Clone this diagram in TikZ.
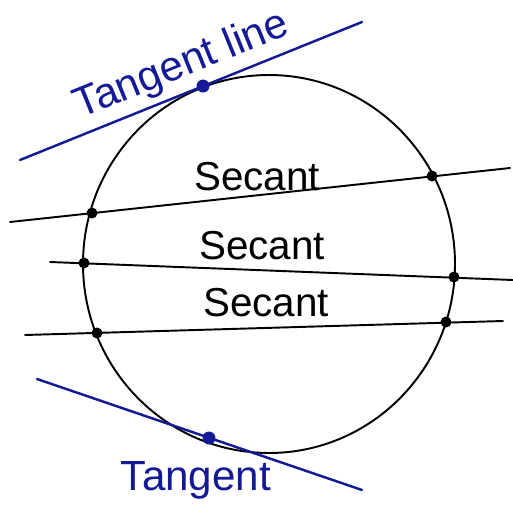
\documentclass[tikz,border=0pt]{standalone}
\usepackage{fontspec}
\setmainfont{Liberation Sans}
\usepackage{xcolor}
\usetikzlibrary{positioning}

\definecolor{penblue}{RGB}{20,25,150}

\begin{document}
\begin{tikzpicture}[x=0.02cm,y=-0.02cm,
    secant/.style={black,line width=1.1pt,line cap=round},
    tangent/.style={penblue,line width=1.4pt,line cap=round},
    dot/.style={circle,fill=black,inner sep=0pt,minimum size=2.2mm},
    tdot/.style={circle,fill=penblue,inner sep=0pt,minimum size=2.6mm},
    lbl/.style={font=\fontsize{23}{26}\selectfont}]
    \useasboundingbox (0,0) rectangle (513,522);

    % Circle
    \draw[line width=1.1pt] (269,264) ellipse (186 and 189);

    % Top tangent line
    \coordinate (t1a) at (20,160);
    \coordinate (t1b) at (362,22);
    \draw[tangent] (t1a) -- (t1b);
    \node[tdot] (t1) at (203,86) {};
    \node[penblue,rotate=22,font=\fontsize{24}{27}\selectfont] (t1lbl) at (182,66) {Tangent line};

    % Secant lines
    \coordinate (s1a) at (10,222);
    \coordinate (s1b) at (510,168);
    \draw[secant] (s1a) -- (s1b);
    \node[dot] (s1p) at (92,213) {};
    \node[dot] (s1q) at (432,176) {};
    \node[lbl] (s1lbl) at (257,177) {Secant};

    \coordinate (s2a) at (50,262);
    \coordinate (s2b) at (513,280);
    \draw[secant] (s2a) -- (s2b);
    \node[dot] (s2p) at (84,263) {};
    \node[dot] (s2q) at (454,277) {};
    \node[lbl] (s2lbl) at (262,246) {Secant};

    \coordinate (s3a) at (25,335);
    \coordinate (s3b) at (503,321);
    \draw[secant] (s3a) -- (s3b);
    \node[dot] (s3p) at (97,333) {};
    \node[dot] (s3q) at (446,322) {};
    \node[lbl] (s3lbl) at (266,303) {Secant};

    % Bottom tangent line
    \coordinate (t2a) at (37,379);
    \coordinate (t2b) at (362,490);
    \draw[tangent] (t2a) -- (t2b);
    \node[tdot] (t2) at (209,438) {};
    \node[penblue,font=\fontsize{24}{27}\selectfont] (t2lbl) at (196,480) {Tangent};
\end{tikzpicture}
\end{document}
